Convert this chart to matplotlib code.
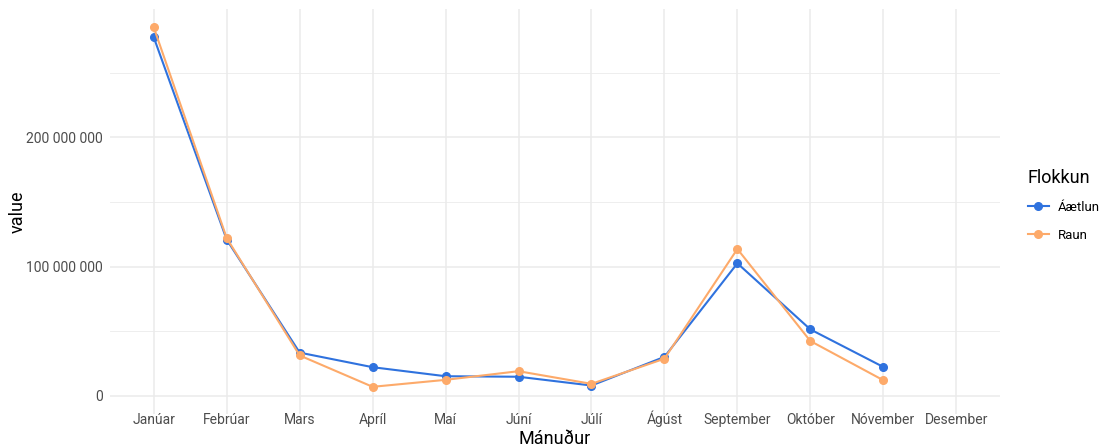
import numpy as np
import matplotlib
matplotlib.use("Agg")
from matplotlib import pyplot as plt
from matplotlib.ticker import FuncFormatter, MultipleLocator

plt.rcParams['font.family'] = ['Roboto', 'DejaVu Sans']

months = ["Janúar", "Febrúar", "Mars", "Apríl", "Maí", "Júní", "Júlí",
          "Ágúst", "September", "Október", "Nóvember", "Desember"]
# values in kronur, Desember missing
aaetlun = [277.6e6, 120.8e6, 33.3e6, 22.0e6, 15.0e6, 14.6e6, 7.8e6,
           30.0e6, 102.5e6, 51.3e6, 22.2e6]
raun = [285.3e6, 122.0e6, 31.1e6, 6.8e6, 12.2e6, 18.9e6, 9.1e6,
        28.6e6, 113.6e6, 42.3e6, 11.9e6]

blue = "#2F72DE"
orange = "#FDAA6A"
grid_col = "#EBEBEB"
txt_col = "#4D4D4D"

fig = plt.figure(figsize=(11.06, 4.48), dpi=100)
ax = fig.add_axes([110/1106, 1 - 414/448, 890/1106, 405/448])

x = np.arange(len(months))
ax.plot(x[:len(aaetlun)], aaetlun, color=blue, lw=1.5, marker="o", ms=5.5, label="Áætlun", zorder=3)
ax.plot(x[:len(raun)], raun, color=orange, lw=1.5, marker="o", ms=5.5, label="Raun", zorder=4)

ymax = max(max(aaetlun), max(raun))
ax.set_ylim(-0.05 * ymax, 1.05 * ymax)
ax.set_xlim(-0.6, len(months) - 1 + 0.6)

ax.set_xticks(x)
ax.set_xticklabels(months)
ax.yaxis.set_major_locator(MultipleLocator(100e6))
ax.yaxis.set_minor_locator(MultipleLocator(50e6))
ax.yaxis.set_major_formatter(FuncFormatter(lambda v, p: f"{int(round(v)):,}".replace(",", " ")))

ax.grid(True, which="major", color=grid_col, lw=1.1, zorder=0)
ax.grid(True, which="minor", axis="y", color=grid_col, lw=0.6, zorder=0)
ax.set_axisbelow(True)
for s in ax.spines.values():
    s.set_visible(False)
ax.tick_params(which="both", length=0, labelsize=10, colors=txt_col)
ax.tick_params(axis="x", pad=7.5)
ax.tick_params(axis="y", pad=5)
for lab in ax.get_xticklabels():
    lab.set_va("baseline")
for lab in ax.get_xticklabels() + ax.get_yticklabels():
    lab.set_color(txt_col)

ax.set_xlabel("Mánuður", fontsize=13, va="baseline")
ax.xaxis.set_label_coords(0.5, -30/405)
ax.set_ylabel("value", fontsize=13, va="center")
ax.yaxis.set_label_coords(-92/890, 0.5)

leg = fig.legend(loc="upper left", bbox_to_anchor=(1021/1106, 1 - 162/448), frameon=False,
                 title="Flokkun", fontsize=9.5, title_fontsize=13, handlelength=1.6,
                 handletextpad=0.7, labelspacing=1.1, borderpad=0, alignment="left")

fig.savefig("out.png", dpi=100)
